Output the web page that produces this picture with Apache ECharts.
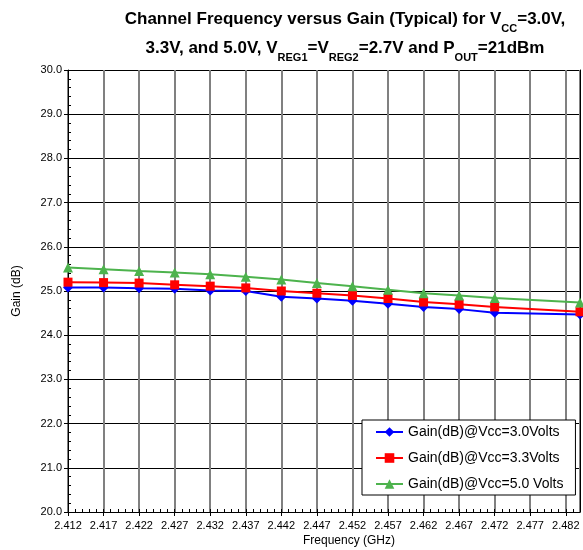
<!DOCTYPE html>
<html>
<head>
<meta charset="utf-8">
<script src="https://cdn.jsdelivr.net/npm/echarts@6/dist/echarts.min.js"></script>
<style>
html,body{margin:0;padding:0;background:#fff;}
#chart{width:583px;height:550px;}
</style>
</head>
<body>
<div id="chart"></div>
<script>
// ---- data ----
const freqs = [2.412, 2.417, 2.422, 2.427, 2.432, 2.437, 2.442, 2.447, 2.452, 2.457, 2.462, 2.467, 2.472, 2.484];
const gainVcc30 = [25.08, 25.08, 25.06, 25.05, 25.01, 25.00, 24.87, 24.83, 24.78, 24.71, 24.64, 24.59, 24.51, 24.47];
const gainVcc33 = [25.20, 25.19, 25.18, 25.14, 25.11, 25.07, 25.00, 24.95, 24.90, 24.83, 24.75, 24.70, 24.64, 24.53];
const gainVcc50 = [25.53, 25.49, 25.45, 25.42, 25.38, 25.32, 25.26, 25.18, 25.11, 25.03, 24.95, 24.90, 24.84, 24.74];
const seriesNames = ['Gain(dB)@Vcc=3.0Volts', 'Gain(dB)@Vcc=3.3Volts', 'Gain(dB)@Vcc=5.0 Volts'];
const xMin = 2.412, xMax = 2.484, xStep = 0.005;
const yMin = 20, yMax = 30, yStep = 1;

const pairs = arr => freqs.map((f, i) => [f, arr[i]]);
const FONT = 'Arial, "Liberation Sans", sans-serif';

const chart = echarts.init(document.getElementById('chart'), null, {renderer: 'canvas'});
const option = {
  animation: false,
  backgroundColor: '#fff',
  textStyle: {fontFamily: FONT, color: '#000'},
  title: {
    left: 340, top: 0, textAlign: 'center',
    text: '{b|Channel Frequency versus Gain (Typical) for V}{s|CC}{b|=3.0V,}\n{b|3.3V, and 5.0V, V}{s|REG1}{b|=V}{s|REG2}{b|=2.7V and P}{s|OUT}{b|=21dBm}',
    textStyle: {
      rich: {
        b: {fontFamily: FONT, fontWeight: 'bold', fontSize: 17, lineHeight: 29, color: '#000'},
        s: {fontFamily: FONT, fontWeight: 'bold', fontSize: 11, lineHeight: 20, verticalAlign: 'bottom', color: '#000'}
      }
    }
  },
  grid: {left: 68, top: 70, right: 3, bottom: 38, containLabel: false, outerBoundsMode: 'none', show: false},
  legend: {
    orient: 'vertical', left: 362, top: 420,
    backgroundColor: '#fff', borderColor: '#000', borderWidth: 1, borderRadius: 0,
    padding: [5, 12, 4, 13], itemGap: 12, itemWidth: 27, itemHeight: 12,
    textStyle: {fontFamily: FONT, fontSize: 14, color: '#000'},
    data: seriesNames
  },
  xAxis: [{
    type: 'value', min: xMin, max: xMax, interval: xStep, position: 'bottom',
    axisLine: {show: true, onZero: false, lineStyle: {color: '#000', width: 1}},
    axisTick: {show: true, inside: false, length: 4, lineStyle: {color: '#000'}},
    axisLabel: {show: true, margin: 8, fontSize: 11, color: '#000', fontFamily: FONT,
      showMaxLabel: false, hideOverlap: false, formatter: v => v.toFixed(3)},
    splitLine: {show: true, lineStyle: {color: '#808080', width: 2}}
  }, {
    type: 'value', min: xMin, max: xMax, interval: xStep, position: 'bottom',
    axisLine: {show: false, onZero: false},
    axisTick: {show: true, inside: true, length: 3, lineStyle: {color: '#000'}},
    minorTick: {show: true, splitNumber: 5, length: 3, lineStyle: {color: '#000'}},
    axisLabel: {show: false}, splitLine: {show: false}
  }],
  yAxis: [{
    type: 'value', min: yMin, max: yMax, interval: yStep, position: 'left',
    axisLine: {show: true, onZero: false, lineStyle: {color: '#000', width: 1}},
    axisTick: {show: true, inside: false, length: 4, lineStyle: {color: '#000'}},
    axisLabel: {show: true, margin: 6, fontSize: 11, color: '#000', fontFamily: FONT, formatter: v => v.toFixed(1)},
    splitLine: {show: true, lineStyle: {color: '#000', width: 1}},
    name: 'Gain (dB)', nameLocation: 'middle', nameGap: 45, nameRotate: 90,
    nameTextStyle: {fontSize: 12, color: '#000', fontFamily: FONT}
  }, {
    type: 'value', min: yMin, max: yMax, interval: yStep, position: 'left',
    axisLine: {show: false, onZero: false},
    axisTick: {show: true, inside: true, length: 3, lineStyle: {color: '#000'}},
    minorTick: {show: true, splitNumber: 5, length: 3, lineStyle: {color: '#000'}},
    axisLabel: {show: false}, splitLine: {show: false}
  }, {
    type: 'value', min: yMin, max: yMax, interval: yStep, position: 'right',
    axisLine: {show: true, onZero: false, lineStyle: {color: '#000', width: 1}},
    axisTick: {show: false}, axisLabel: {show: false}, splitLine: {show: false}
  }],
  graphic: [{
    type: 'text', left: 303, top: 535,
    style: {text: 'Frequency (GHz)', fontSize: 12, fontFamily: FONT, fill: '#000', textAlign: 'center'}
  }],
  series: [{
    name: seriesNames[0], type: 'line', data: pairs(gainVcc30),
    symbol: 'diamond', symbolSize: 10, color: '#0000FF',
    lineStyle: {width: 2, color: '#0000FF'}, itemStyle: {color: '#0000FF'}
  }, {
    name: seriesNames[1], type: 'line', data: pairs(gainVcc33),
    symbol: 'rect', symbolSize: 9, color: '#FF0000',
    lineStyle: {width: 2, color: '#FF0000'}, itemStyle: {color: '#FF0000'}
  }, {
    name: seriesNames[2], type: 'line', data: pairs(gainVcc50),
    symbol: 'triangle', symbolSize: 10, color: '#4DB34D',
    lineStyle: {width: 2, color: '#4DB34D'}, itemStyle: {color: '#4DB34D'}
  }]
};
chart.setOption(option);
</script>
</body>
</html>
